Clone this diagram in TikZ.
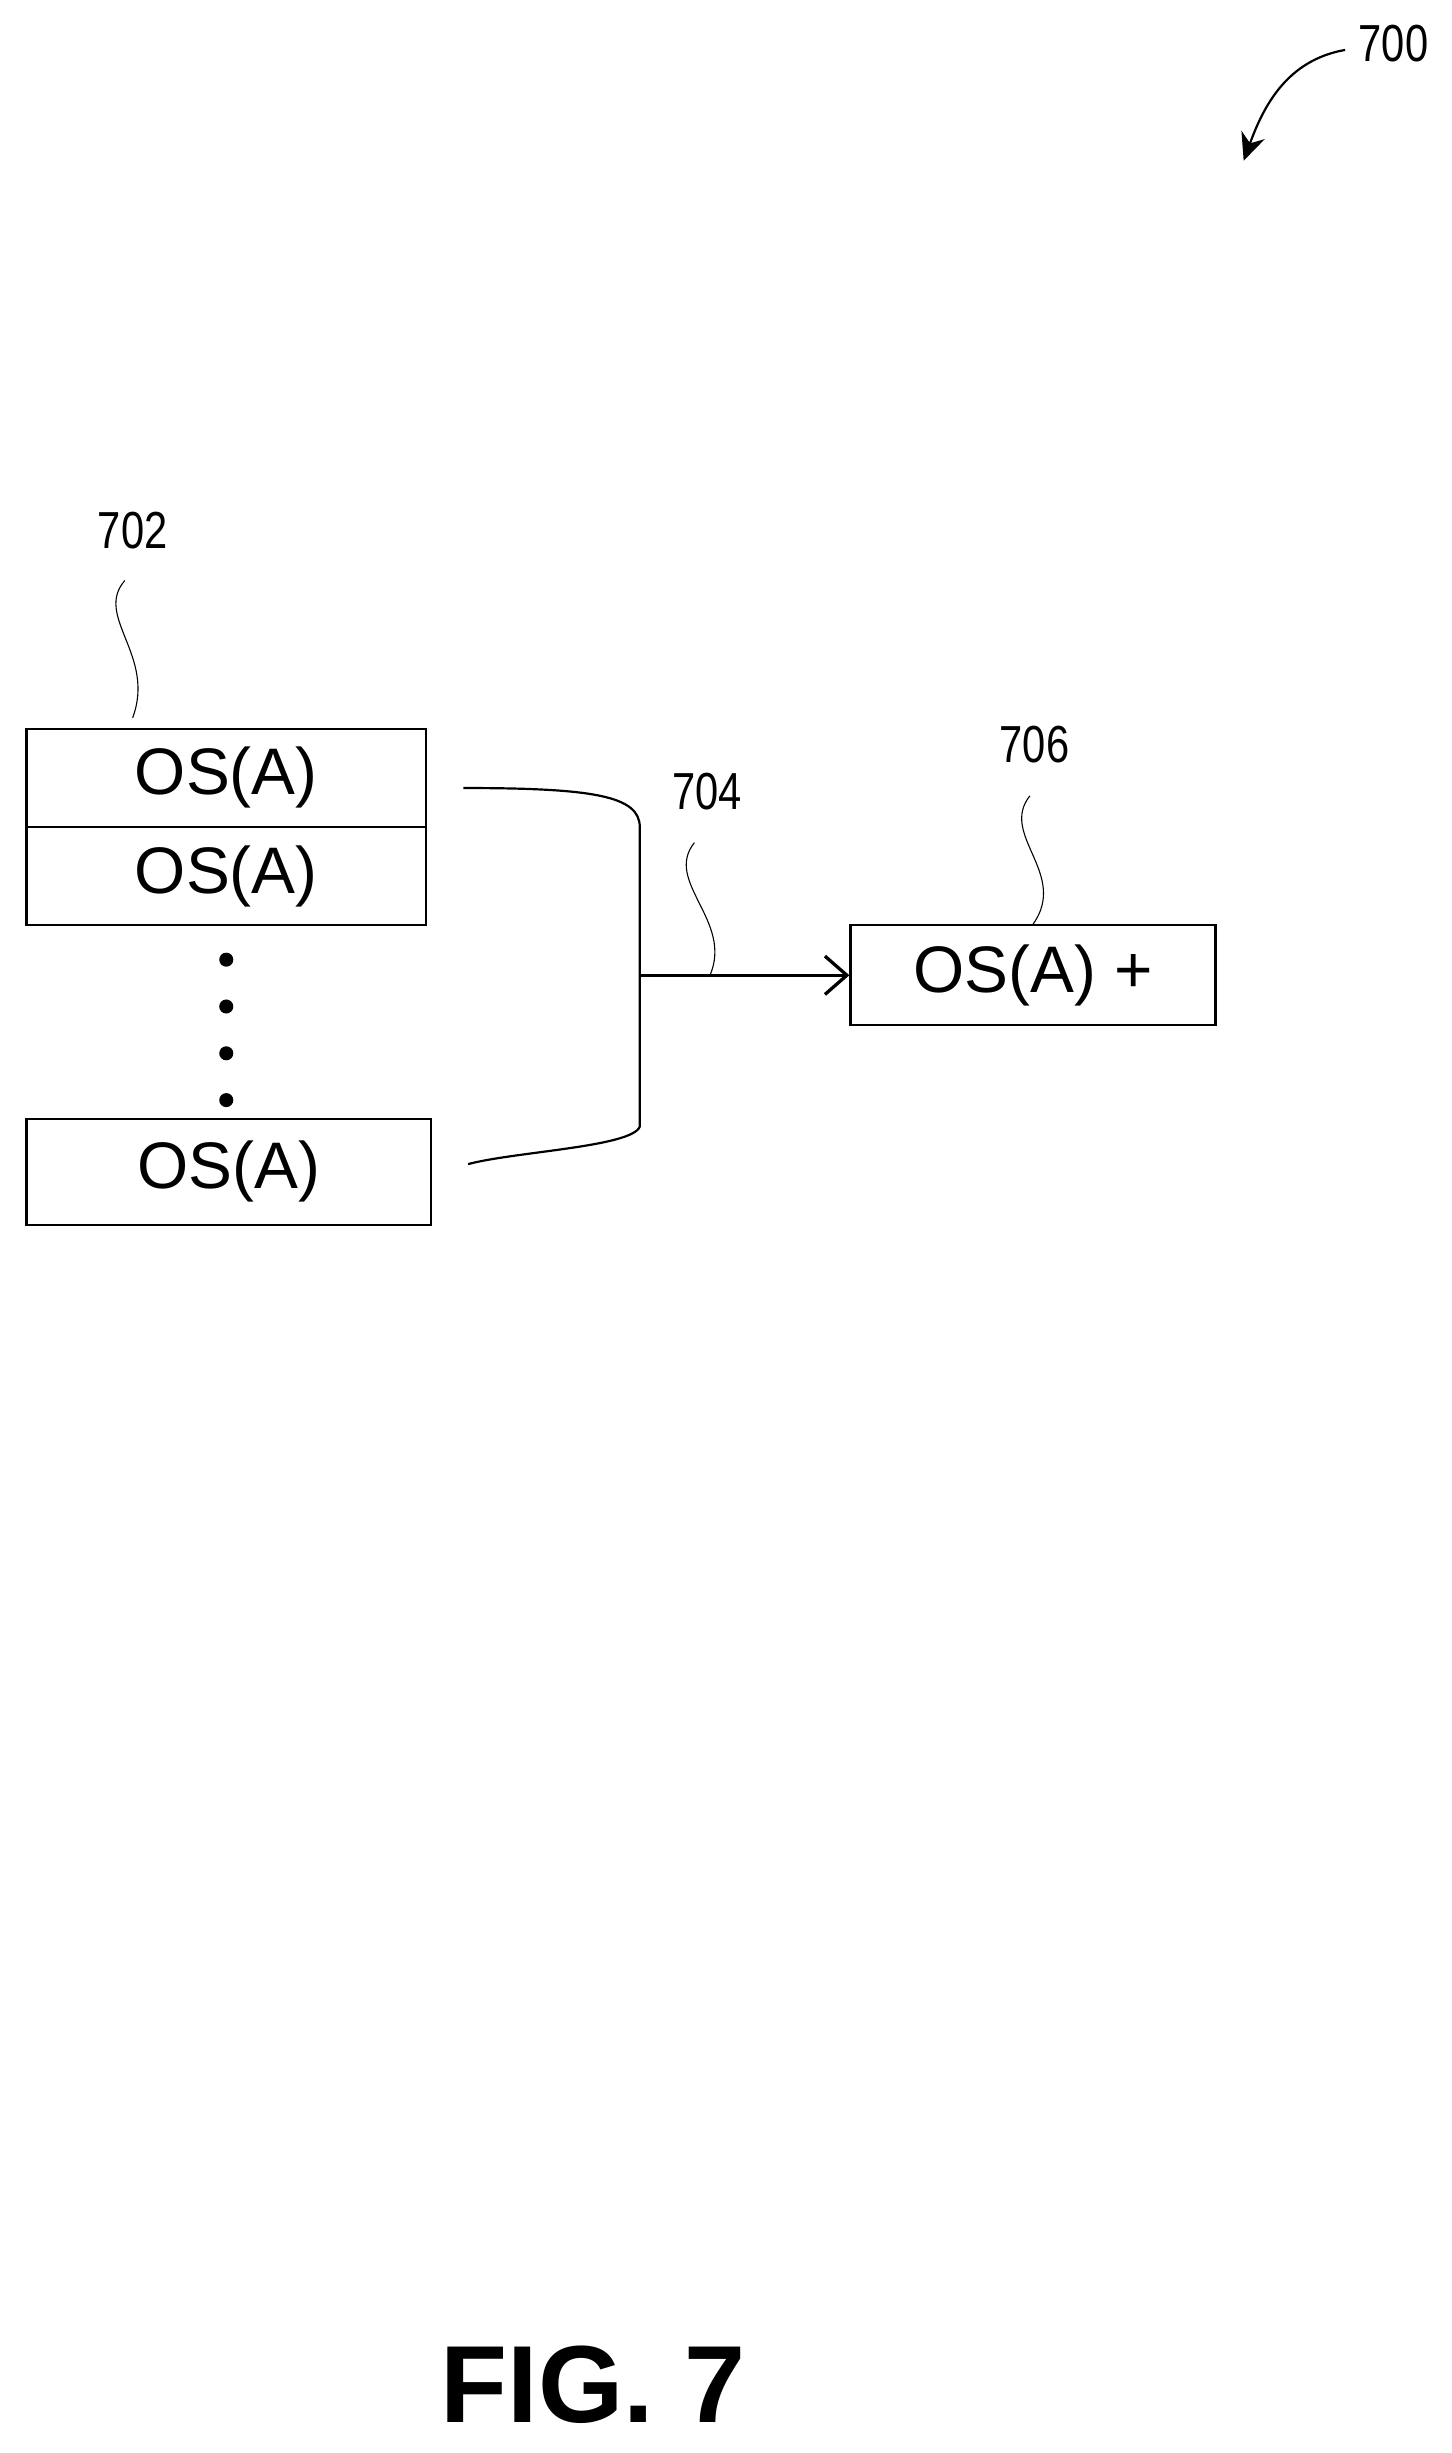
\documentclass[tikz,border=0pt]{standalone}
\usepackage{fontspec}
\setmainfont{Liberation Sans}
\usetikzlibrary{arrows.meta}
\begin{document}
\begin{tikzpicture}[x=0.02cm,y=-0.02cm,
    osbox/.style={draw, thick, minimum width=5.12cm, minimum height=1.26cm, inner sep=0pt, font=\fontsize{24}{28}\selectfont},
    refnum/.style={font=\fontsize{19}{22}\selectfont\addfontfeatures{FakeStretch=0.8}},
    squiggle/.style={thin}]
    \useasboundingbox (0,0) rectangle (930,1572);

    % Reference 700
    \node[refnum] (n700) at (893,28) {700};
    \coordinate (a700) at (797,103);
    \draw[thick,-{Stealth[length=10pt,width=9pt]}] (862,32) to[out=190,in=70] (a700);

    % Stack of OS(A) boxes (702)
    \node[osbox] (os1) at (145,498.5) {OS(A)};
    \node[osbox] (os2) at (145,561.5) {OS(A)};
    \node[osbox, minimum width=5.18cm, minimum height=1.36cm] (os3) at (146.5,751) {OS(A)};
    \foreach \y in {615,645,675,705}
        \fill (145,\y) circle (4.5);

    \node[refnum] (n702) at (85,340) {702};
    \draw[squiggle] (80,372) .. controls (60,395) and (100,420) .. (85,460);

    % Bracket and arrow (704)
    \coordinate (btop) at (297,505);
    \coordinate (bbot) at (300,746);
    \coordinate (bmid) at (410,625);
    \draw[thick] (btop) .. controls (380,505) and (410,510) .. (410,530)
        -- (410,722) .. controls (405,735) and (330,738) .. (bbot);

    % Result box (706)
    \node[osbox, minimum width=4.68cm, minimum height=1.28cm] (res) at (662,625) {OS(A) +};
    \draw[very thick,-{Straight Barb[length=8pt,width=14pt]}] (bmid) -- (res.west);

    \node[refnum] (n704) at (453,507) {704};
    \draw[squiggle] (445,540) .. controls (425,565) and (470,590) .. (455,625);

    \node[refnum] (n706) at (663,477) {706};
    \draw[squiggle] (660,510) .. controls (640,535) and (685,560) .. (res.north);

    % Caption
    \node[font=\fontsize{40}{46}\selectfont\bfseries] (cap) at (380,1528) {FIG. 7};
\end{tikzpicture}
\end{document}
